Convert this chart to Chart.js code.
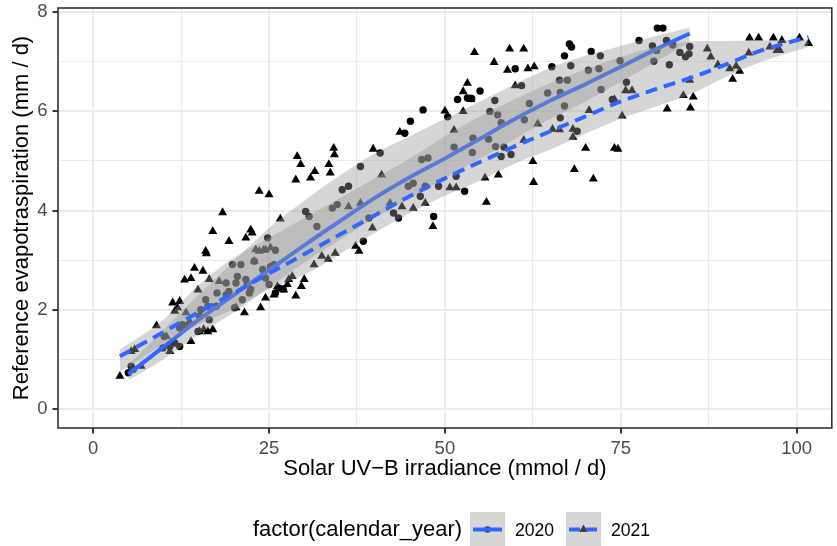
<!DOCTYPE html>
<html>
<head>
<meta charset="utf-8">
<script src="https://cdn.jsdelivr.net/npm/chart.js@4.4.0/dist/chart.umd.min.js"></script>
<style>
  body { margin: 0; background: #fff; font-family: "Liberation Sans", Arial, sans-serif; }
  #wrap { position: relative; width: 837px; height: 546px; overflow: hidden; }
  #legend .t { position: absolute; white-space: nowrap; color: #000; }
  #legend svg { position: absolute; }
</style>
</head>
<body>
<div id="wrap">
  <canvas id="chart" width="837" height="546"></canvas>
  <div id="legend">
    <span class="t" style="left:253px;top:516px;font-size:22px;line-height:26px">factor(calendar_year)</span>
    <svg style="left:470px;top:512px" width="35" height="35">
      <rect width="35" height="35" fill="#fff"/>
      <circle cx="17.5" cy="17.5" r="3.3" fill="#000"/>
      <rect width="35" height="35" fill="rgba(153,153,153,0.4)"/>
      <line x1="3" y1="17.5" x2="32" y2="17.5" stroke="#3366FF" stroke-width="4"/>
    </svg>
    <span class="t" style="left:515px;top:519px;font-size:17.6px;line-height:22px">2020</span>
    <svg style="left:566px;top:512px" width="35" height="35">
      <rect width="35" height="35" fill="#fff"/>
      <polygon points="17.5,12.5 21.8,20 13.2,20" fill="#000"/>
      <rect width="35" height="35" fill="rgba(153,153,153,0.4)"/>
      <line x1="3" y1="17.5" x2="32" y2="17.5" stroke="#3366FF" stroke-width="4" stroke-dasharray="11 6"/>
    </svg>
    <span class="t" style="left:611px;top:519px;font-size:17.6px;line-height:22px">2021</span>
  </div>
</div>
<script>
const uvb2020 = [5.0, 5.4, 5.7, 9.9, 10.1, 10.9, 11.6, 12.3, 12.3, 12.7, 13.2, 14.9, 15.1, 15.3, 16.0, 16.3, 16.5, 17.5, 17.6, 18.9,
  18.9, 19.3, 19.8, 20.1, 20.3, 20.5, 21.0, 21.2, 21.7, 21.9, 22.2, 22.4, 22.9, 24.1, 24.5, 24.8, 25.0, 25.2, 25.7, 25.9,
  25.9, 26.4, 27.0, 30.2, 30.7, 31.8, 34.0, 34.7, 35.4, 36.3, 38.0, 38.4, 39.2, 40.8, 42.7, 43.4, 44.3, 44.8, 45.1, 45.5,
  46.5, 46.7, 46.9, 47.2, 47.6, 48.4, 49.1, 50.4, 51.3, 51.6, 51.8, 52.8, 53.2, 53.8, 53.9, 54.0, 55.0, 56.2, 56.4, 57.1,
  57.2, 57.5, 58.0, 58.0, 58.4, 59.4, 60.0, 60.9, 61.3, 62.0, 64.6, 65.2, 66.3, 66.4, 66.4, 67.0, 67.0, 67.4, 67.7, 68.0,
  67.9, 68.8, 70.4, 70.8, 71.9, 72.1, 72.2, 73.8, 74.9, 75.8, 77.6, 79.5, 79.7, 80.1, 80.2, 81.0, 81.5, 81.9, 82.4, 83.4,
  84.2, 84.7, 84.8];
const et2020 = [0.73, 0.86, 0.80, 1.23, 1.46, 1.26, 1.33, 1.26, 1.63, 1.70, 1.67, 1.56, 1.87, 2.00, 2.20, 2.07, 1.80, 2.07, 2.34, 2.30,
  2.54, 2.37, 2.91, 2.04, 2.54, 2.67, 2.91, 2.20, 2.61, 2.51, 2.34, 2.41, 2.98, 2.81, 2.64, 3.45, 2.51, 2.87, 2.91, 3.20,
  2.34, 2.44, 2.42, 3.98, 3.88, 3.68, 4.05, 4.12, 4.42, 4.49, 4.89, 3.38, 3.85, 5.16, 3.95, 3.85, 5.56, 4.49, 5.80, 4.55,
  4.29, 5.03, 6.03, 4.49, 5.06, 3.88, 4.49, 5.89, 5.28, 4.69, 6.24, 4.39, 6.27, 6.26, 5.17, 5.46, 6.41, 5.44, 6.00, 6.22,
  5.29, 5.93, 5.77, 5.09, 5.28, 5.13, 6.86, 6.52, 5.83, 6.16, 6.37, 6.90, 6.63, 6.38, 5.87, 7.12, 6.11, 6.63, 7.36, 7.30,
  6.92, 5.60, 6.83, 7.21, 6.86, 7.12, 6.44, 6.24, 7.02, 6.59, 7.43, 7.32, 7.01, 7.23, 7.68, 7.68, 7.43, 6.94, 7.34, 7.19,
  7.10, 7.16, 7.31];

const uvb2021 = [3.8, 5.4, 5.9, 6.8, 9.0, 10.4, 10.9, 11.3, 11.6, 12.0, 12.3, 13.0, 13.2, 13.7, 13.9, 13.9, 14.4, 14.9, 15.1, 15.6,
  15.7, 16.0, 16.1, 16.3, 16.5, 17.0, 17.0, 17.9, 18.4, 19.3, 20.3, 21.5, 21.7, 22.4, 22.6, 22.9, 23.1, 23.6, 23.6, 23.8,
  24.2, 24.5, 24.5, 25.0, 25.2, 25.7, 26.2, 26.6, 27.1, 27.6, 27.8, 28.3, 28.8, 28.8, 29.0, 29.5, 29.6, 30.0, 30.9, 31.4,
  31.5, 32.5, 33.4, 33.5, 33.7, 34.2, 34.3, 34.4, 36.3, 37.3, 37.8, 38.0, 39.7, 39.8, 41.0, 42.2, 43.6, 43.9, 45.5, 47.2,
  48.3, 50.0, 50.7, 51.3, 51.6, 52.6, 52.6, 53.2, 53.7, 54.2, 55.7, 55.9, 57.0, 57.6, 58.9, 59.2, 60.0, 61.2, 61.2, 61.8,
  62.5, 62.6, 62.7, 63.2, 65.3, 66.3, 68.2, 68.2, 68.4, 70.0, 70.5, 71.1, 74.1, 74.6, 74.1, 75.2, 75.7, 76.6, 81.6, 83.9,
  84.8, 84.9, 85.3, 87.3, 87.8, 88.8, 90.5, 90.9, 91.4, 91.9, 93.2, 93.3, 94.6, 96.2, 96.7, 97.2, 97.6, 97.9, 100.4, 101.7];
const et2021 = [0.66, 1.16, 1.20, 0.86, 1.68, 1.46, 1.16, 2.14, 1.97, 2.04, 2.17, 2.60, 1.94, 1.77, 2.63, 1.36, 2.84, 2.40, 1.56, 2.78,
  1.60, 3.18, 3.13, 1.56, 2.61, 1.60, 3.58, 2.57, 3.96, 3.38, 2.04, 1.94, 3.45, 3.61, 3.55, 2.98, 3.21, 3.18, 4.39, 2.04,
  3.20, 2.24, 3.21, 4.32, 3.25, 2.30, 2.47, 3.83, 2.40, 2.51, 2.61, 2.67, 2.28, 4.62, 5.09, 4.93, 2.47, 2.61, 4.66, 2.91,
  4.79, 3.08, 3.02, 4.93, 4.76, 5.26, 5.13, 3.14, 4.08, 3.28, 3.18, 4.15, 3.65, 5.24, 4.72, 4.15, 5.58, 4.08, 4.05, 4.15,
  3.68, 6.01, 4.46, 5.62, 4.46, 6.00, 6.40, 6.57, 6.24, 7.19, 4.66, 4.17, 6.99, 4.72, 6.83, 7.26, 6.52, 7.26, 5.42, 6.86,
  4.99, 4.57, 6.90, 5.75, 5.64, 5.63, 5.64, 5.48, 4.83, 5.26, 6.02, 4.64, 5.26, 5.24, 6.24, 5.91, 6.42, 6.42, 6.05, 6.32,
  6.63, 6.07, 6.29, 7.26, 7.10, 6.94, 6.86, 6.65, 6.91, 6.81, 7.18, 7.48, 7.48, 7.30, 7.48, 7.23, 7.23, 7.43, 7.48, 7.37];

// smooth fits with confidence bands
const fitX2020 = [5, 10, 15, 20, 25, 30, 35, 40, 45, 50, 55, 60, 65, 70, 75, 80, 84.8];
const fit2020 = [0.70, 1.25, 1.80, 2.30, 2.80, 3.30, 3.78, 4.25, 4.67, 5.05, 5.45, 5.85, 6.22, 6.55, 6.90, 7.25, 7.57];
const upper2020 = [0.88, 1.60, 2.30, 2.98, 3.65, 4.20, 4.70, 5.15, 5.50, 5.85, 6.20, 6.55, 6.88, 7.12, 7.32, 7.52, 7.69];
const lower2020 = [0.58, 1.00, 1.50, 1.95, 2.45, 2.95, 3.40, 3.85, 4.25, 4.65, 5.05, 5.45, 5.85, 6.20, 6.60, 7.00, 7.40];

const fitX2021 = [3.8, 10, 15, 20, 25, 30, 35, 40, 45, 50, 55, 60, 65, 70, 75, 80, 85, 90, 95, 101.7];
const fit2021 = [1.06, 1.55, 1.95, 2.34, 2.73, 3.12, 3.51, 3.90, 4.29, 4.65, 4.98, 5.30, 5.60, 5.90, 6.20, 6.45, 6.68, 6.95, 7.23, 7.50];
const upper2021 = [1.20, 1.80, 2.50, 3.05, 3.45, 3.85, 4.25, 4.65, 5.05, 5.50, 5.90, 6.25, 6.57, 6.85, 7.10, 7.30, 7.41, 7.42, 7.43, 7.45];
const lower2021 = [0.75, 1.30, 1.70, 2.02, 2.42, 2.70, 3.12, 3.55, 3.95, 4.30, 4.60, 4.95, 5.23, 5.55, 5.85, 6.10, 6.35, 6.70, 7.00, 7.30];

const xTicks = [0, 25, 50, 75, 100];
const yTicks = [0, 2, 4, 6, 8];

const pts = (xs, ys) => xs.map((x, i) => ({ x: x, y: ys[i] }));
const band = 'rgba(153,153,153,0.4)';
const blue = '#3366FF';

const panelBorder = {
  id: 'panelBorder',
  afterDraw(chart) {
    const { ctx, chartArea: a } = chart;
    ctx.save();
    ctx.strokeStyle = '#333333';
    ctx.lineWidth = 1.6;
    ctx.strokeRect(a.left, a.top, a.right - a.left, a.bottom - a.top);
    ctx.restore();
  }
};

const lineSet = (data, extra) => Object.assign({
  type: 'line',
  data: data,
  pointRadius: 0,
  borderColor: 'rgba(0,0,0,0)',
  backgroundColor: band,
  borderWidth: 0,
  fill: false,
  cubicInterpolationMode: 'monotone'
}, extra);

new Chart(document.getElementById('chart'), {
  type: 'scatter',
  data: {
    datasets: [
      { data: pts(uvb2020, et2020), pointStyle: 'circle', pointRadius: 3.7, backgroundColor: '#000',
        borderColor: '#000', borderWidth: 0, order: 10 },
      { data: pts(uvb2021, et2021), pointStyle: 'triangle', pointRadius: 5.2, backgroundColor: '#000',
        borderColor: '#000', borderWidth: 0, order: 9 },
      lineSet(pts(fitX2020, upper2020), { order: 8 }),
      lineSet(pts(fitX2020, lower2020), { order: 7, fill: 2 }),
      lineSet(pts(fitX2020, fit2020), { order: 6, borderColor: blue, borderWidth: 4 }),
      lineSet(pts(fitX2021, upper2021), { order: 5 }),
      lineSet(pts(fitX2021, lower2021), { order: 4, fill: 5 }),
      lineSet(pts(fitX2021, fit2021), { order: 3, borderColor: blue, borderWidth: 4, borderDash: [12, 7] })
    ]
  },
  options: {
    responsive: false,
    animation: false,
    events: [],
    layout: { padding: { top: 8, right: 1, left: 0, bottom: 64 } },
    plugins: { legend: { display: false }, tooltip: { enabled: false } },
    scales: {
      x: {
        type: 'linear', min: -5, max: 105,
        afterBuildTicks: s => { s.ticks = [0, 12.5, 25, 37.5, 50, 62.5, 75, 87.5, 100].map(v => ({ value: v })); },
        afterFit: s => { s.height = 54; s.paddingLeft = 0; s.paddingRight = 0; },
        border: { display: false },
        grid: {
          color: '#ebebeb',
          lineWidth: c => xTicks.includes(c.tick.value) ? 2.1 : 1.1,
          tickColor: c => xTicks.includes(c.tick.value) ? '#333333' : 'rgba(0,0,0,0)',
          tickWidth: 2,
          tickLength: 5.5
        },
        ticks: {
          autoSkip: false, maxRotation: 0, padding: 4,
          color: '#4d4d4d', font: { family: '"Liberation Sans", Arial', size: 18.5 },
          callback: v => xTicks.includes(v) ? String(v) : ''
        },
        title: {
          display: true, text: 'Solar UV\u2212B irradiance (mmol / d)', color: '#000',
          font: { family: '"Liberation Sans", Arial', size: 22 }, padding: { top: 0, bottom: 0 }
        }
      },
      y: {
        type: 'linear', min: -0.385, max: 8.085,
        afterBuildTicks: s => { s.ticks = [0, 1, 2, 3, 4, 5, 6, 7, 8].map(v => ({ value: v })); },
        afterFit: s => { s.width = 58; s.paddingTop = 0; s.paddingBottom = 0; },
        border: { display: false },
        grid: {
          color: '#ebebeb',
          lineWidth: c => yTicks.includes(c.tick.value) ? 2.1 : 1.1,
          tickColor: c => yTicks.includes(c.tick.value) ? '#333333' : 'rgba(0,0,0,0)',
          tickWidth: 2,
          tickLength: 5.5
        },
        ticks: {
          autoSkip: false, padding: 5,
          color: '#4d4d4d', font: { family: '"Liberation Sans", Arial', size: 18.5 },
          callback: v => yTicks.includes(v) ? String(v) : ''
        },
        title: {
          display: true, text: 'Reference evapotraspiration (mm / d)', color: '#000',
          font: { family: '"Liberation Sans", Arial', size: 22 }, padding: { top: 9, bottom: 0 }
        }
      }
    }
  },
  plugins: [panelBorder]
});
</script>
</body>
</html>
